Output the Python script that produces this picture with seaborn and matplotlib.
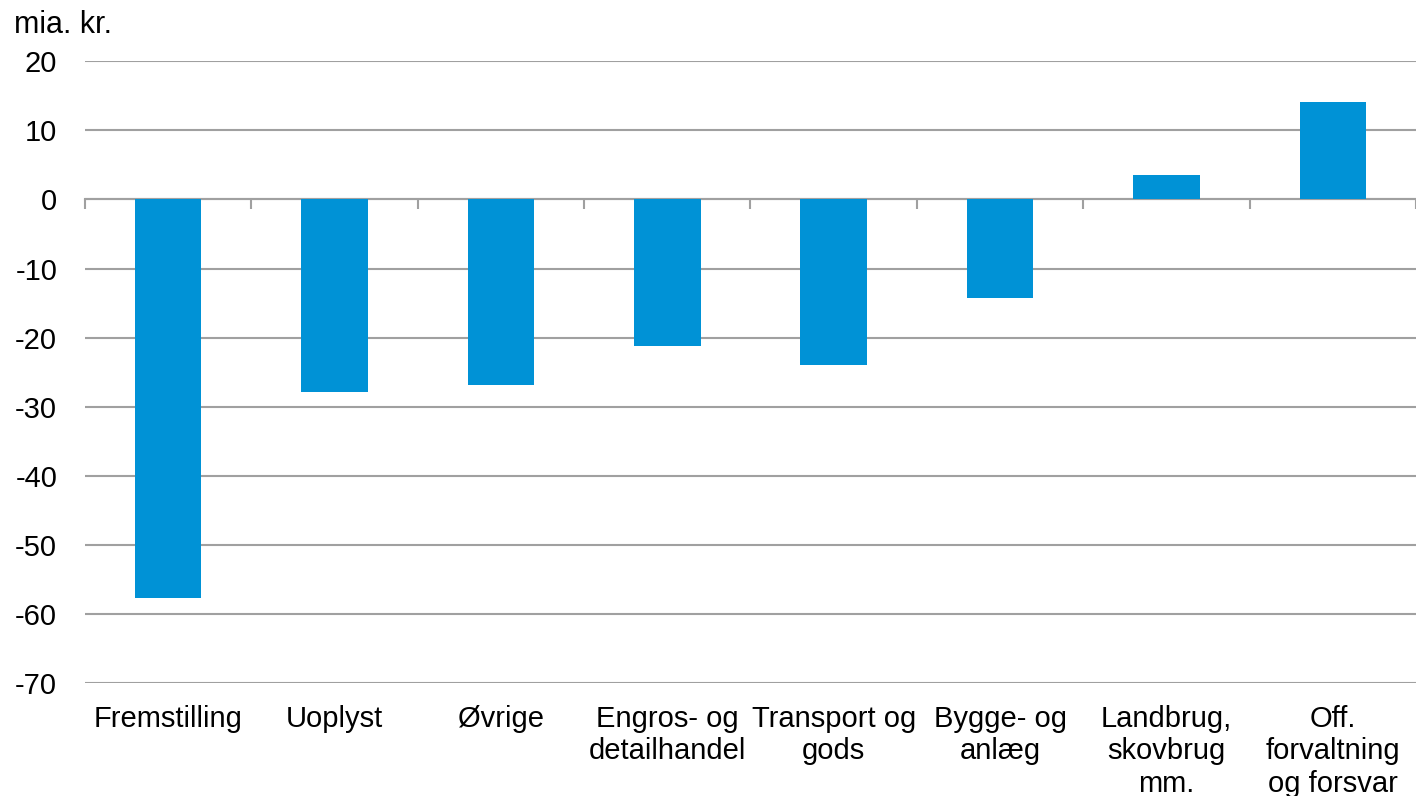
import pandas as pd
import seaborn as sns
import matplotlib.pyplot as plt
from matplotlib.ticker import FixedLocator

categories = [
    "Fremstilling",
    "Uoplyst",
    "Øvrige",
    "Engros- og\ndetailhandel",
    "Transport og\ngods",
    "Bygge- og\nanlæg",
    "Landbrug,\nskovbrug\nmm.",
    "Off.\nforvaltning\nog forsvar",
]
values = [-57.7, -27.9, -26.8, -21.2, -23.9, -14.3, 3.6, 14.1]
y_ticks = [20, 10, 0, -10, -20, -30, -40, -50, -60, -70]

df = pd.DataFrame({"category": categories, "value": values})

sns.set_theme(style="white")
plt.rcParams["font.family"] = ["Liberation Sans", "DejaVu Sans"]
plt.rcParams["axes.unicode_minus"] = False
plt.rcParams["text.color"] = "black"

fig = plt.figure(figsize=(14.16, 7.96), dpi=100)
ax = fig.add_axes([0.06, 0.142, 0.94, 0.781])

sns.barplot(data=df, x="category", y="value", color="#0092d6",
            width=0.4, saturation=1, linewidth=0, ax=ax, zorder=3)

ax.set_ylim(-70, 20)
ax.set_xlim(-0.5, len(categories) - 0.5)
ax.set_yticks(y_ticks)
ax.yaxis.grid(True, color="#a0a0a0", linewidth=1.5)
ax.set_axisbelow(True)
ax.tick_params(axis="y", length=0, labelsize=21, pad=20, labelcolor="black")

# x axis sits at zero with tick marks between categories
for side in ["left", "right", "top"]:
    ax.spines[side].set_visible(False)
ax.spines["bottom"].set_position(("data", 0))
ax.spines["bottom"].set_color("#a0a0a0")
ax.spines["bottom"].set_linewidth(1.5)
ax.xaxis.set_major_locator(FixedLocator([i - 0.5 for i in range(len(categories) + 1)]))
ax.set_xticklabels([])
ax.tick_params(axis="x", direction="out", length=7, width=1.5, color="#a0a0a0", bottom=True)
ax.set_xlabel("")
ax.set_ylabel("")

for i, label in enumerate(categories):
    ax.text(i, -0.035, label, transform=ax.get_xaxis_transform(),
            ha="center", va="top", fontsize=21, linespacing=1.2, color="black")

fig.text(0.01, 0.968, "mia. kr.", fontsize=22, ha="left", va="center", color="black")

fig.savefig("out.png", dpi=100)
